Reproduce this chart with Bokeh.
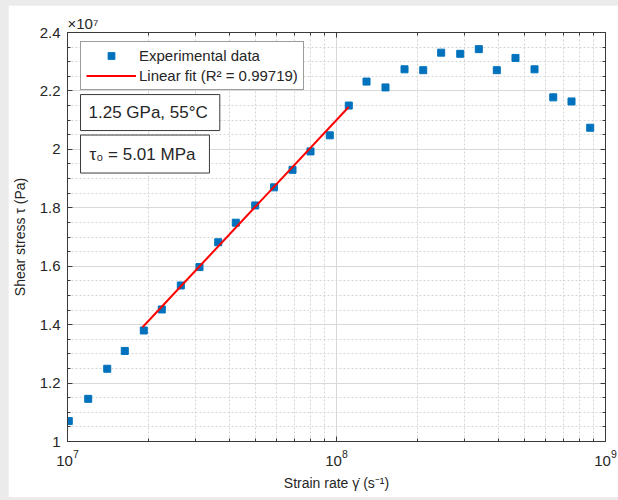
from bokeh.plotting import figure
from bokeh.models import (Range1d, LogAxis, LinearAxis, FixedTicker, LogTickFormatter,
                          CustomJSTickFormatter, Legend, LegendItem, Label)
from bokeh.layouts import column
from bokeh.embed import file_html
from bokeh.resources import INLINE

# ---- data ----
strain_rate = [1.011e7, 1.194e7, 1.405e7, 1.633e7, 1.921e7, 2.242e7, 2.638e7, 3.095e7,
               3.633e7, 4.224e7, 4.987e7, 5.858e7, 6.862e7, 8.005e7, 9.442e7, 1.111e8,
               1.293e8, 1.521e8, 1.790e8, 2.101e8, 2.450e8, 2.884e8, 3.381e8, 3.944e8,
               4.628e8, 5.447e8, 6.393e8, 7.475e8, 8.773e8]
# shear stress in units of 1e7 Pa
shear_stress = [1.070, 1.146, 1.249, 1.310, 1.380, 1.452, 1.534, 1.597,
                1.682, 1.749, 1.808, 1.870, 1.930, 1.993, 2.048, 2.150,
                2.232, 2.212, 2.274, 2.271, 2.331, 2.327, 2.343, 2.271,
                2.313, 2.274, 2.178, 2.164, 2.074]
fit_strain_rate = [1.90e7, 1.11e8]
fit_shear_stress = [1.391, 2.145]

x_major_ticks = [1e7, 1e8, 1e9]          # labelled 10^7, 10^8, 10^9
y_major_ticks = [1.0, 1.2, 1.4, 1.6, 1.8, 2.0, 2.2, 2.4]
y_tick_labels = ["1", "1.2", "1.4", "1.6", "1.8", "2", "2.2", "2.4"]
series_names = ["Experimental data", "Linear fit (R² = 0.99719)"]
note_1 = "1.25 GPa, 55°C"
note_2 = "τ₀ = 5.01 MPa"

FONT = "Liberation Sans"
DARK = "#262626"
AX = "#3a3a3a"

x_minor_ticks = [m * d for d in (1e7, 1e8) for m in range(2, 10)]
y_minor_ticks = [round(1.0 + 0.05 * i, 2) for i in range(29)]

p = figure(width=610, height=492, x_axis_type="log",
           x_range=Range1d(1e7, 1e9), y_range=Range1d(1.0, 2.4),
           output_backend="svg", toolbar_location=None,
           min_border_left=59, min_border_right=13, min_border_top=27, min_border_bottom=56,
           background_fill_color="white", border_fill_color="white")
p.margin = (5, 0, 3, 8)

p.title.text = "×10⁷"
p.title.align = "left"
p.title.text_font = FONT
p.title.text_font_size = "15px"
p.title.text_font_style = "normal"
p.title.text_color = DARK
p.title.standoff = 2

xtick = FixedTicker(ticks=x_major_ticks, minor_ticks=x_minor_ticks)
ytick = FixedTicker(ticks=y_major_ticks, minor_ticks=y_minor_ticks)
lookup = """
let best = 0, bd = Infinity;
for (let i = 0; i < tk.length; i++) {
  const d = Math.abs(tick - tk[i]) / Math.abs(tk[i]);
  if (d < bd) { bd = d; best = i; }
}
return bd < 1e-6 ? lb[best] : '';
"""
xfmt = LogTickFormatter()
yfmt = CustomJSTickFormatter(args=dict(tk=y_major_ticks, lb=y_tick_labels), code=lookup)
blank = CustomJSTickFormatter(code="return '';")

def style_axis(ax):
    ax.axis_line_color = AX
    ax.major_tick_line_color = AX
    ax.minor_tick_line_color = AX
    ax.major_tick_in = 5
    ax.major_tick_out = 0
    ax.minor_tick_in = 3
    ax.minor_tick_out = 0
    ax.major_label_text_font = FONT
    ax.major_label_text_color = DARK
    ax.axis_label_text_font = FONT
    ax.axis_label_text_color = DARK
    ax.axis_label_text_font_style = "normal"

xa = p.xaxis[0]
xa.ticker = xtick
xa.formatter = xfmt
style_axis(xa)
xa.major_label_text_font_size = "15px"
xa.major_label_standoff = 8
xa.axis_label = "Strain rate γ̇ (s⁻¹)"
xa.axis_label_text_font_size = "14px"
xa.axis_label_standoff = 6

ya = p.yaxis[0]
ya.ticker = ytick
ya.formatter = yfmt
style_axis(ya)
ya.major_label_text_font_size = "15px"
ya.major_label_standoff = 7
ya.axis_label = "Shear stress τ (Pa)"
ya.axis_label_text_font_size = "14px"
ya.axis_label_standoff = 9

top = LogAxis(ticker=xtick, formatter=blank)
style_axis(top)
top.major_label_standoff = 0
p.add_layout(top, "above")
right = LinearAxis(ticker=ytick, formatter=blank)
style_axis(right)
right.major_label_standoff = 0
p.add_layout(right, "right")

p.outline_line_color = AX

for g in (p.xgrid[0], p.ygrid[0]):
    g.grid_line_color = "#d9d9d9"
    g.grid_line_width = 1
    g.minor_grid_line_color = "#d4d4d4"
    g.minor_grid_line_dash = "2 2"
    g.minor_grid_line_width = 1
p.xgrid[0].ticker = xtick
p.ygrid[0].ticker = ytick

pts = p.scatter(strain_rate, shear_stress, marker="square", size=7,
                fill_color="#0072BD", line_color="#0072BD")
fit = p.line(fit_strain_rate, fit_shear_stress, line_color="#ff0000", line_width=2)

legend = Legend(items=[LegendItem(label=series_names[0], renderers=[pts]),
                       LegendItem(label=series_names[1], renderers=[fit])],
                location=(13, 351))
legend.label_text_font = FONT
legend.label_text_font_size = "15px"
legend.label_text_color = DARK
legend.glyph_width = 50
legend.glyph_height = 17
legend.label_height = 17
legend.label_standoff = 3
legend.spacing = 3
legend.padding = 5
legend.margin = 0
legend.border_line_color = AX
legend.border_line_width = 1
legend.background_fill_color = "white"
legend.background_fill_alpha = 1
p.add_layout(legend, "center")

for txt, yv, pad in ((note_1, 2.126, (8, 12, 8, 9)), (note_2, 1.984, (9, 14, 10, 9))):
    lab = Label(x=1.118e7, y=yv, text=txt, text_align="left", text_baseline="middle",
                text_font=FONT, text_font_size="17px", text_color=DARK,
                border_line_color=AX, border_line_width=1,
                background_fill_color="white", background_fill_alpha=1, padding=pad)
    p.add_layout(lab)

layout = column(p, width=618, height=500, styles={"background-color": "#ebebeb"})
open("out.html", "w").write(file_html(layout, INLINE))
